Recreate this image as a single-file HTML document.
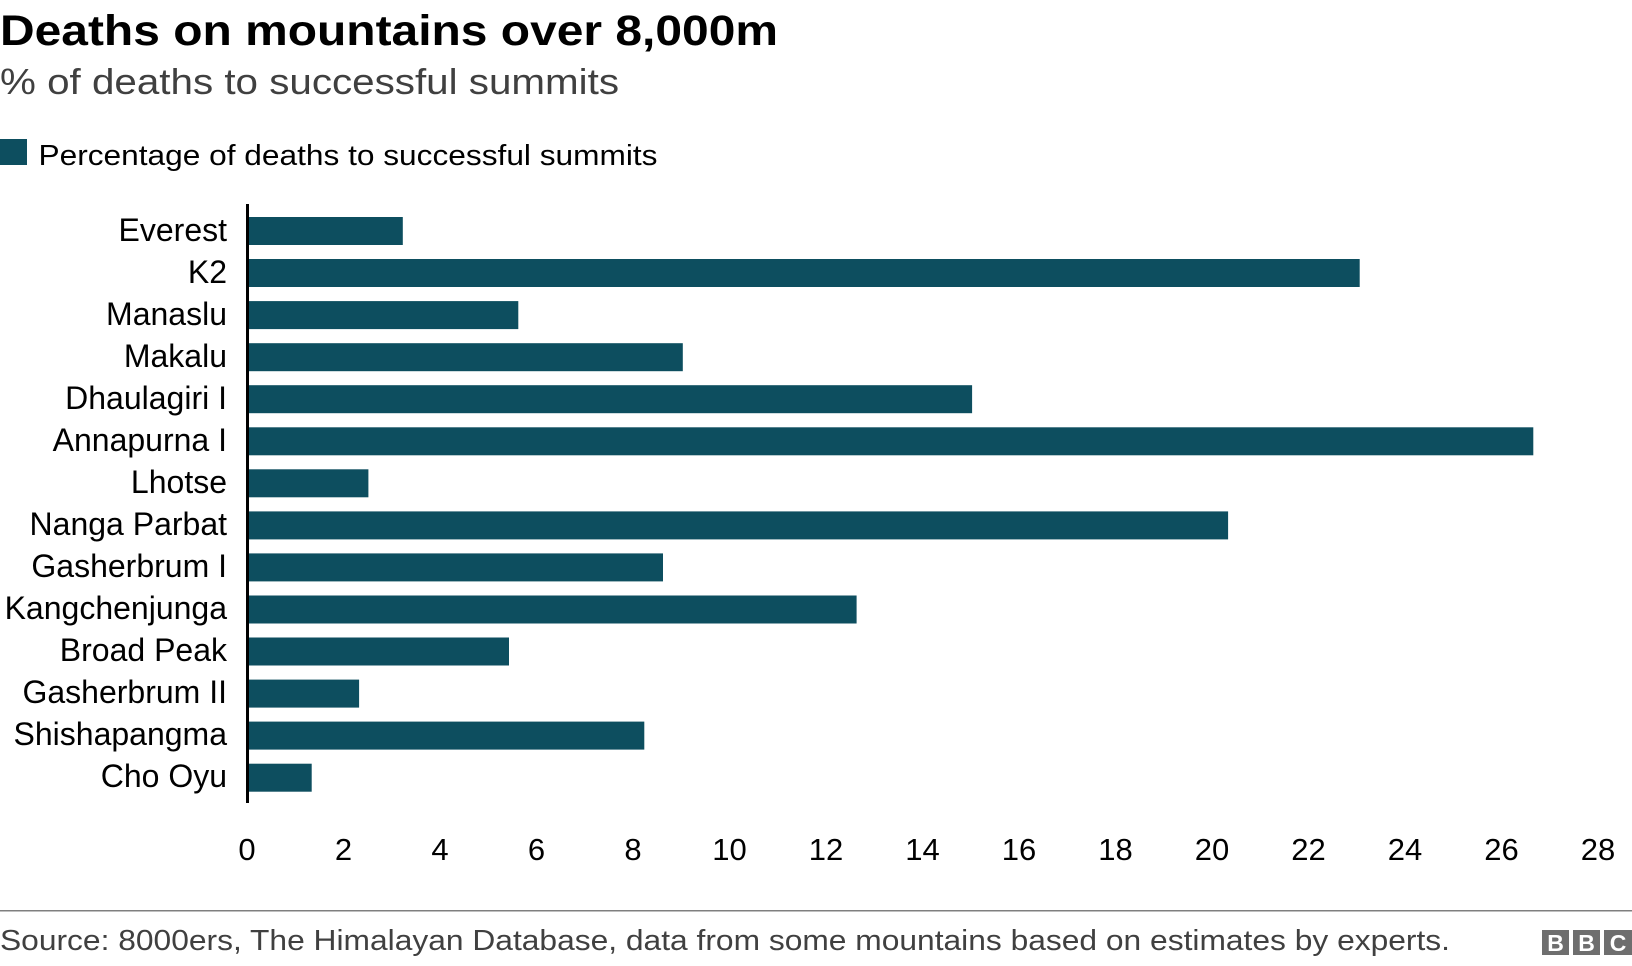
<!DOCTYPE html>
<html><head><meta charset="utf-8"><style>
html,body{margin:0;padding:0;background:#fff;}
svg{display:block;}
text{font-family:"Liberation Sans",Arial,sans-serif;}
</style></head><body>
<svg width="1632" height="966" viewBox="0 0 1632 966" xmlns="http://www.w3.org/2000/svg">
<text x="0" y="45" font-size="43" font-weight="bold" fill="#000" textLength="778" lengthAdjust="spacingAndGlyphs">Deaths on mountains over 8,000m</text>
<text x="0" y="94" font-size="36" fill="#404040" textLength="619" lengthAdjust="spacingAndGlyphs">% of deaths to successful summits</text>
<rect x="0" y="139" width="27" height="26" fill="#0d4e5f"/>
<text x="38.5" y="165" font-size="29" fill="#000" textLength="619" lengthAdjust="spacingAndGlyphs">Percentage of deaths to successful summits</text>
<g fill="#0d4e5f">
<rect x="249" y="217" width="153.8" height="28"/>
<rect x="249" y="259" width="1110.7" height="28"/>
<rect x="249" y="301.1" width="269.3" height="28"/>
<rect x="249" y="343.2" width="433.8" height="28"/>
<rect x="249" y="385.2" width="723.1" height="28"/>
<rect x="249" y="427.3" width="1284.3" height="28"/>
<rect x="249" y="469.3" width="119.4" height="28"/>
<rect x="249" y="511.4" width="979.1" height="28"/>
<rect x="249" y="553.4" width="414" height="28"/>
<rect x="249" y="595.5" width="607.6" height="28"/>
<rect x="249" y="637.5" width="260" height="28"/>
<rect x="249" y="679.6" width="110.1" height="28"/>
<rect x="249" y="721.6" width="395.3" height="28"/>
<rect x="249" y="763.7" width="62.7" height="28"/>
</g>
<line x1="247.5" y1="204" x2="247.5" y2="803" stroke="#000" stroke-width="3"/>
<g font-size="32" fill="#000" text-anchor="end">
<text x="227" y="241">Everest</text>
<text x="227" y="283">K2</text>
<text x="227" y="325">Manaslu</text>
<text x="227" y="367">Makalu</text>
<text x="227" y="409">Dhaulagiri I</text>
<text x="227" y="451">Annapurna I</text>
<text x="227" y="493">Lhotse</text>
<text x="227" y="535">Nanga Parbat</text>
<text x="227" y="577">Gasherbrum I</text>
<text x="227" y="619">Kangchenjunga</text>
<text x="227" y="661">Broad Peak</text>
<text x="227" y="703">Gasherbrum II</text>
<text x="227" y="745">Shishapangma</text>
<text x="227" y="787">Cho Oyu</text>
</g>
<g font-size="31" fill="#000" text-anchor="middle">
<text x="247" y="860">0</text>
<text x="343.5" y="860">2</text>
<text x="440" y="860">4</text>
<text x="536.5" y="860">6</text>
<text x="633" y="860">8</text>
<text x="729.5" y="860">10</text>
<text x="826" y="860">12</text>
<text x="922.5" y="860">14</text>
<text x="1019" y="860">16</text>
<text x="1115.5" y="860">18</text>
<text x="1212" y="860">20</text>
<text x="1308.5" y="860">22</text>
<text x="1405" y="860">24</text>
<text x="1501.5" y="860">26</text>
<text x="1598" y="860">28</text>
</g>
<rect x="0" y="910" width="1632" height="1.5" fill="#7f7f7f"/>
<text x="0" y="950" font-size="29" fill="#404040" textLength="1450" lengthAdjust="spacingAndGlyphs">Source: 8000ers, The Himalayan Database, data from some mountains based on estimates by experts.</text>
<g fill="#6e6e6e">
<rect x="1542" y="930" width="27" height="25"/>
<rect x="1573" y="930" width="27" height="25"/>
<rect x="1604" y="930" width="28" height="25"/>
</g>
<g font-size="23" font-weight="bold" fill="#fff" text-anchor="middle">
<text x="1555.5" y="951">B</text>
<text x="1586.5" y="951">B</text>
<text x="1618" y="951">C</text>
</g>
</svg>
</body></html>
